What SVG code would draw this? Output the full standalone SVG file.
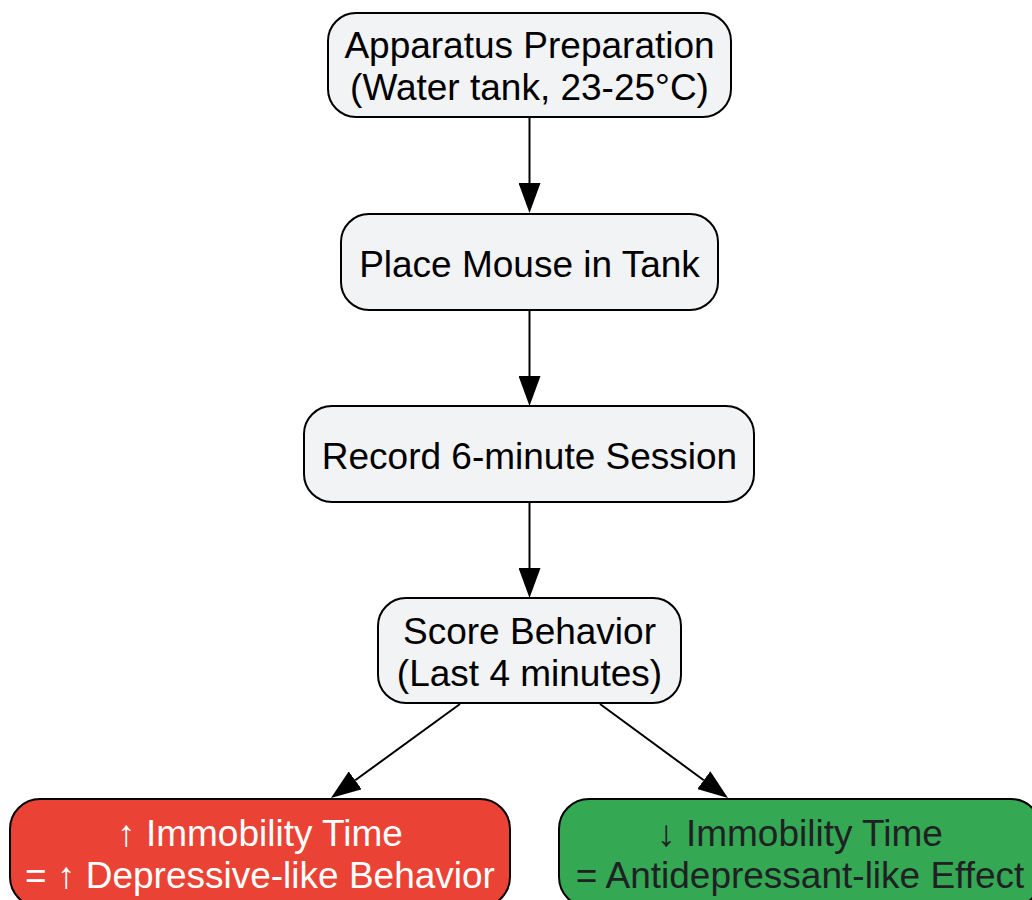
<svg xmlns="http://www.w3.org/2000/svg" width="1032" height="900" viewBox="0 0 1032 900">
  <defs>
    <style>
      .box { stroke: #000000; stroke-width: 2; }
      .grey { fill: #F1F3F4; }
      .red { fill: #EA4335; }
      .green { fill: #34A853; }
      .t { font-family: "Liberation Sans", Arial, sans-serif; font-size: 37px; text-anchor: middle; fill: #000000; }
      .tw { fill: #FFFFFF; }
      .td { fill: #202124; }
      .edge { stroke: #000000; stroke-width: 2; fill: none; marker-end: url(#arr); }
    </style>
    <marker id="arr" markerUnits="userSpaceOnUse" markerWidth="30" markerHeight="22" refX="0" refY="11" orient="auto">
      <path d="M0,0 L30,11 L0,22 z" fill="#000000"/>
    </marker>
  </defs>
  <rect width="1032" height="900" fill="#FFFFFF"/>
  <g id="connectors">
    <line class="edge" x1="529.5" y1="117" x2="529.5" y2="183"/>
    <line class="edge" x1="529.5" y1="310" x2="529.5" y2="376"/>
    <line class="edge" x1="529.5" y1="502" x2="529.5" y2="568"/>
    <line class="edge" x1="460" y1="704" x2="355.2" y2="780.3"/>
    <line class="edge" x1="600" y1="704" x2="703.8" y2="780.2"/>
  </g>
  <g id="node-apparatus">
    <rect class="box grey" x="328" y="13" width="403" height="104" rx="28"/>
    <text class="t" x="529.5" y="58">Apparatus Preparation</text>
    <text class="t" x="529.5" y="100">(Water tank, 23-25°C)</text>
  </g>
  <g id="node-place">
    <rect class="box grey" x="341" y="214" width="377" height="96" rx="28"/>
    <text class="t" x="529.5" y="277">Place Mouse in Tank</text>
  </g>
  <g id="node-record">
    <rect class="box grey" x="304" y="406" width="450" height="96" rx="28"/>
    <text class="t" x="529.5" y="469">Record 6-minute Session</text>
  </g>
  <g id="node-score">
    <rect class="box grey" x="378" y="598" width="303" height="105" rx="28"/>
    <text class="t" x="529.5" y="644">Score Behavior</text>
    <text class="t" x="529.5" y="686">(Last 4 minutes)</text>
  </g>
  <g id="node-increase">
    <rect class="box red" x="10" y="799" width="500" height="108" rx="30"/>
    <text class="t tw" x="260" y="846">↑ Immobility Time</text>
    <text class="t tw" x="260" y="888">= ↑ Depressive-like Behavior</text>
  </g>
  <g id="node-decrease">
    <rect class="box green" x="559" y="799" width="482" height="108" rx="30"/>
    <text class="t td" x="800" y="846">↓ Immobility Time</text>
    <text class="t td" x="800" y="888">= Antidepressant-like Effect</text>
  </g>
</svg>
